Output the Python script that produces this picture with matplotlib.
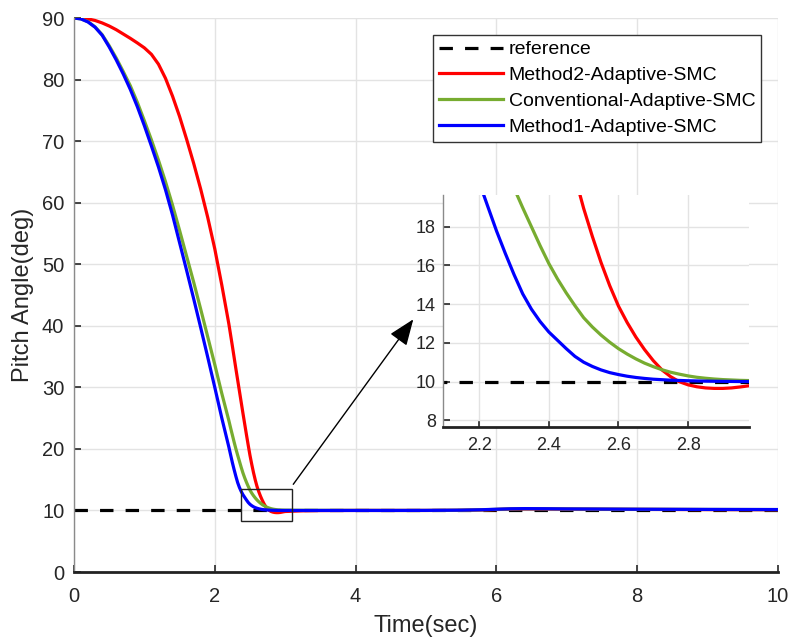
import numpy as np
import matplotlib.pyplot as plt
from matplotlib.patches import Rectangle

plt.rcParams['font.family'] = ['Liberation Sans', 'DejaVu Sans']

# --- data ---
# time grid: coarse on the slope, fine near the settling part, coarse tail
t = np.concatenate([np.round(np.arange(0, 2.21, 0.1), 3),
                    np.round(np.arange(2.225, 3.001, 0.025), 3),
                    [3.25, 3.5, 4, 4.5, 5, 5.5, 5.8, 6.0, 6.2, 6.4, 6.7, 7, 8, 9, 10]])

t_ref = [0, 10]
ref = [10, 10]

m2 = [90, 89.97, 89.85, 89.6, 89.2, 88.7, 88.1, 87.4, 86.7, 85.95, 85.15, 84.1, 82.5,
      80.2, 77.3, 74.0, 70.3, 66.4, 62.2, 57.6, 52.5, 46.6, 40.3,
      38.5, 36.7, 34.85, 33.0, 31.2, 29.4, 27.6, 25.8,
      24.05, 22.3, 20.6, 18.95, 17.5, 16.15, 14.95, 13.9,
      13.05, 12.3, 11.65, 11.08, 10.6, 10.25, 9.99, 9.83,
      9.73, 9.67, 9.645, 9.645, 9.67, 9.72, 9.78, 9.83,
      9.94, 9.98, 10.0, 10.0, 10.0, 10.02, 10.08, 10.15, 10.22, 10.25, 10.24, 10.21, 10.17, 10.14, 10.12]

conv = [90, 89.85, 89.4, 88.55, 87.3, 85.5, 83.5, 81.3, 79.0, 76.3, 73.3, 70.2, 66.9,
        63.4, 59.6, 55.5, 51.3, 47.1, 42.7, 38.2, 33.7, 29.0, 24.6,
        23.4, 22.25, 21.1, 20.0, 18.98, 18.0, 17.02, 16.1,
        15.3, 14.58, 13.92, 13.3, 12.82, 12.4, 12.03, 11.7,
        11.42, 11.17, 10.95, 10.77, 10.61, 10.48, 10.38, 10.29,
        10.22, 10.17, 10.13, 10.1, 10.08, 10.06, 10.05, 10.04,
        10.03, 10.02, 10.01, 10.0, 10.0, 10.04, 10.1, 10.18, 10.25, 10.28, 10.27, 10.24, 10.19, 10.16, 10.14]

m1 = [90, 89.85, 89.35, 88.5, 87.2, 85.3, 83.2, 80.9, 78.4, 75.6, 72.5, 69.2, 65.8,
      62.1, 58.0, 53.5, 49.0, 44.4, 39.7, 34.9, 30.0, 25.0, 20.3,
      19.03, 17.77, 16.62, 15.53, 14.53, 13.74, 13.10, 12.56,
      12.13, 11.70, 11.30, 11.0, 10.78, 10.60, 10.46, 10.36,
      10.275, 10.21, 10.16, 10.12, 10.095, 10.07, 10.055, 10.04,
      10.03, 10.02, 10.015, 10.01, 10.005, 10.0, 10.0, 10.0,
      10.0, 10.0, 10.0, 10.0, 10.01, 10.05, 10.12, 10.2, 10.27, 10.3, 10.28, 10.25, 10.2, 10.17, 10.15]

labels = ['reference', 'Method2-Adaptive-SMC', 'Conventional-Adaptive-SMC', 'Method1-Adaptive-SMC']
zoom_box = [2.37, 3.1, 8.3, 13.5]   # x0, x1, y0, y1
inset_xlim = [2.096, 2.975]
inset_ylim = [7.65, 19.64]

RED = '#ff0000'
GREEN = '#77ac30'
BLUE = '#0000ff'
GRID = '#e3e3e3'
TXT = '#262626'


def style_axes(ax, size):
    ax.grid(True, color=GRID, lw=1)
    ax.set_axisbelow(True)
    for s in ['top', 'right']:
        ax.spines[s].set_visible(False)
    ax.spines['left'].set_color('#8a8a8a')
    ax.spines['left'].set_linewidth(1.0)
    ax.spines['bottom'].set_color('#222222')
    ax.spines['bottom'].set_linewidth(2.0)
    ax.tick_params(direction='in', labelsize=size, colors=TXT, length=5, width=1.2)


def draw(ax):
    ax.plot(t_ref, ref, color='k', lw=2.3, dashes=(4.2, 3.8), label=labels[0])
    ax.plot(t, m2, color=RED, lw=2.3, label=labels[1])
    ax.plot(t, conv, color=GREEN, lw=2.3, label=labels[2])
    ax.plot(t, m1, color=BLUE, lw=2.3, label=labels[3])


fig = plt.figure(figsize=(7.92, 6.43), dpi=100)
ax = fig.add_axes([0.0934, 0.1104, 0.8889, 0.8616])
draw(ax)
ax.set_xlim(0, 10)
ax.set_ylim(0, 90)
ax.set_xticks(np.arange(0, 11, 2))
ax.set_yticks(np.arange(0, 91, 10))
style_axes(ax, 14.5)
ax.tick_params(axis='x', pad=11)
ax.tick_params(axis='y', pad=7)
ax.set_xlabel('Time(sec)', fontsize=17, color=TXT, labelpad=6)
ax.set_ylabel('Pitch Angle(deg)', fontsize=17, color=TXT, labelpad=6)

leg = ax.legend(loc='upper right', bbox_to_anchor=(761 / 792, 1 - 35 / 643),
                bbox_transform=fig.transFigure, fontsize=14, handlelength=3.3,
                handletextpad=0.3, labelspacing=0.42, borderpad=0.3,
                borderaxespad=0, fancybox=False, framealpha=1)
leg.get_frame().set_edgecolor('#333333')
leg.get_frame().set_linewidth(1.0)

# zoom box and arrow
ax.add_patch(Rectangle((zoom_box[0], zoom_box[2]), zoom_box[1] - zoom_box[0],
                       zoom_box[3] - zoom_box[2], fill=False, ec='#222222', lw=1.0, zorder=5))
ax.annotate('', xy=(4.82, 41.05), xytext=(zoom_box[1] + 0.015, zoom_box[3] + 0.75),
            arrowprops=dict(arrowstyle='-|>,head_length=0.9,head_width=0.35',
                            color='k', lw=1.0, mutation_scale=18, shrinkA=0, shrinkB=0))

# inset
axi = fig.add_axes([443 / 792, 1 - 427 / 643, 306 / 792, 232 / 643])
draw(axi)
axi.set_xlim(inset_xlim)
axi.set_ylim(inset_ylim)
axi.set_xticks([2.2, 2.4, 2.6, 2.8])
axi.set_yticks(np.arange(8, 19, 2))
style_axes(axi, 13)
axi.tick_params(axis='x', pad=7)
axi.tick_params(axis='y', pad=5)

fig.savefig('out.png', dpi=100)
